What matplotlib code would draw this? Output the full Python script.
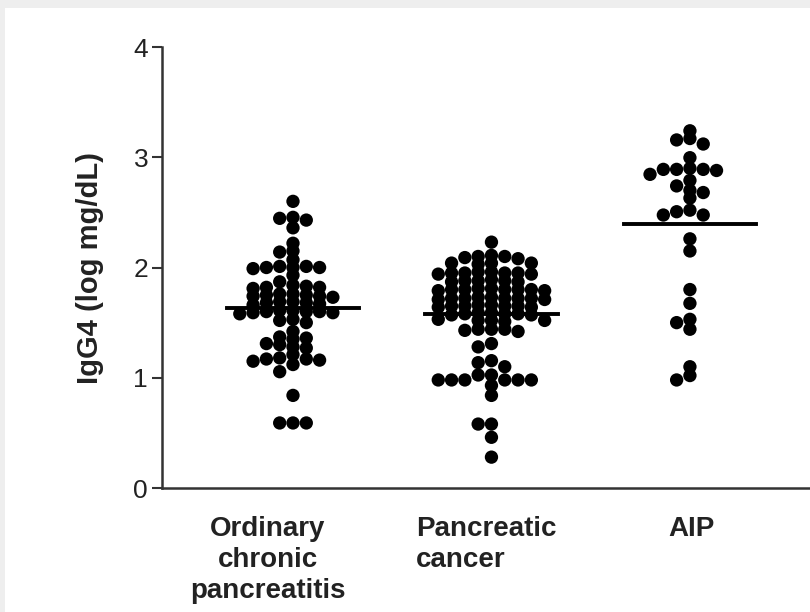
import matplotlib
matplotlib.use("Agg")
from matplotlib import pyplot as plt
from matplotlib.patches import Rectangle
from matplotlib.transforms import ScaledTranslation
import numpy as np

plt.rcParams['font.family'] = ['Liberation Sans', 'DejaVu Sans']

# IgG4 dot plot: three patient groups, line = mean

groups = ["Ordinary\nchronic\npancreatitis", "Pancreatic\ncancer", "AIP"]

ocp = [2.60, 2.455, 2.43, 2.446, 2.36, 2.22, 2.15, 2.14, 2.07,
       2.00, 2.00, 2.01, 1.99, 2.00, 2.01, 1.93,
       1.87, 1.84, 1.82, 1.81, 1.82, 1.83,
       1.76, 1.75, 1.74, 1.75, 1.73, 1.76, 1.74,
       1.69, 1.68, 1.67, 1.68, 1.66, 1.69,
       1.60, 1.61, 1.59, 1.60, 1.58, 1.60, 1.61, 1.59,
       1.53, 1.52, 1.50, 1.42, 1.37, 1.36, 1.35, 1.31, 1.30, 1.28, 1.27, 1.21,
       1.17, 1.18, 1.16, 1.17, 1.15, 1.12, 1.055, 0.84, 0.59, 0.59, 0.59]

cancer = [2.23, 2.10, 2.11, 2.10, 2.09, 2.08, 2.04, 2.04, 2.03, 2.04,
          1.95, 1.96, 1.94, 1.95, 1.96, 1.95, 1.94, 1.95,
          1.88, 1.89, 1.87, 1.88, 1.88, 1.87,
          1.80, 1.81, 1.79, 1.80, 1.80, 1.81, 1.79, 1.80, 1.80,
          1.72, 1.73, 1.71, 1.72, 1.72, 1.73, 1.71, 1.72, 1.72,
          1.65, 1.66, 1.64, 1.65, 1.65, 1.66, 1.64, 1.65,
          1.58, 1.59, 1.57, 1.58, 1.58, 1.59, 1.57,
          1.52, 1.52, 1.51, 1.53, 1.52,
          1.44, 1.43, 1.44, 1.42, 1.44,
          1.31, 1.28, 1.155, 1.137, 1.10, 1.025, 1.025,
          0.98, 0.98, 0.98, 0.98, 0.98, 0.98, 0.93, 0.84,
          0.58, 0.58, 0.46, 0.28]

aip = [3.24, 3.17, 3.157, 3.12, 2.996, 2.89, 2.89, 2.88, 2.89, 2.90,
       2.845, 2.79, 2.74, 2.70, 2.68, 2.63, 2.52, 2.506, 2.476, 2.476,
       2.26, 2.15, 1.80, 1.675, 1.53, 1.50, 1.44, 1.10, 1.02, 0.98]

data = [ocp, cancer, aip]


def column_layout(values, step, min_gap):
    # put dots on fixed columns, nearest free column to the centre
    order = np.argsort(values)[::-1]
    cols = {}
    offs = np.zeros(len(values))
    for i in order:
        v = values[i]
        k = 0
        while True:
            for c in ([0] if k == 0 else [-k, k]):
                taken = cols.get(c, [])
                if all(abs(v - t) >= min_gap for t in taken):
                    cols.setdefault(c, []).append(v)
                    offs[i] = c * step
                    break
            else:
                k += 1
                continue
            break
    return offs


fig = plt.figure(figsize=(8.1, 6.12), dpi=100)
fig.patch.set_facecolor('#eeeeee')
fig.patches.append(Rectangle((5 / 810, 0), 1, 1 - 8 / 612, transform=fig.transFigure,
                             facecolor='white', edgecolor='none', zorder=-10))

ax = fig.add_axes([0.2, 0.2026, 0.8, 0.7206])
ax.set_facecolor('none')
ax.set_zorder(2)

for i, vals in enumerate(data):
    vals = np.array(vals)
    x = i + column_layout(vals, 0.067, 0.068)
    ax.scatter(x, vals, s=92, color='black', edgecolors='none', zorder=3, clip_on=False)
    m = vals.mean()
    ax.plot([i - 0.333, i + 0.333], [m, m], color='black', linewidth=2.8, zorder=4)

ax.set_xlim(-0.66, 2.605)
ax.set_ylim(0, 4)
ax.set_yticks([0, 1, 2, 3, 4])
ax.set_xticks(range(3))
ax.set_xticklabels(groups, fontsize=20, fontweight='bold', color='#222222', linespacing=1.25)
ax.tick_params(axis='x', length=0, pad=20)
ax.tick_params(axis='y', length=7, width=1.5, pad=3, labelsize=19, color='#333333', labelcolor='#222222')
ax.set_ylabel('IgG4 (log mg/dL)', fontsize=21, fontweight='bold', color='#222222', labelpad=21)

# labels sit a little off the group centres in the original
shifts = [-25, -5, 2]
aligns = ['center', 'left', 'center']
for lab, dx, al in zip(ax.get_xticklabels(), shifts, aligns):
    lab.set_multialignment(al)
    lab.set_transform(lab.get_transform() + ScaledTranslation(dx / 100, 0, fig.dpi_scale_trans))

for s in ['top', 'right']:
    ax.spines[s].set_visible(False)
for s in ['left', 'bottom']:
    ax.spines[s].set_linewidth(1.8)
    ax.spines[s].set_color('#333333')

plt.savefig('out.png', dpi=100)
